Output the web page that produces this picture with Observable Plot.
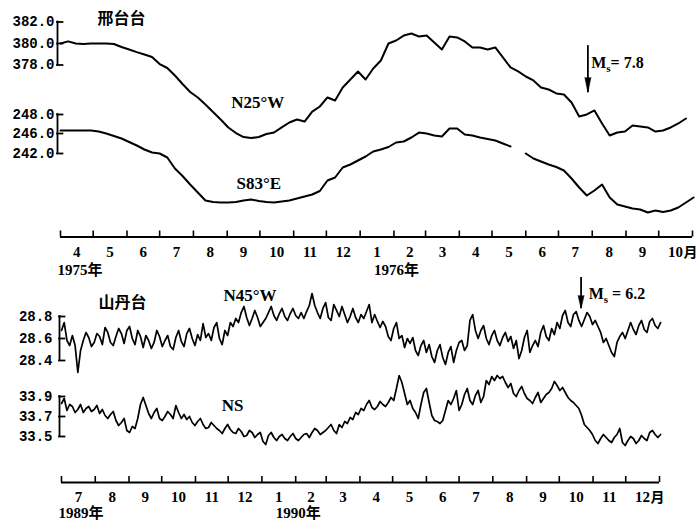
<!DOCTYPE html>
<html>
<head>
<meta charset="utf-8">
<script src="https://cdn.jsdelivr.net/npm/d3@7"></script>
<script src="https://cdn.jsdelivr.net/npm/@observablehq/plot@0.6"></script>
<style>
html, body { margin: 0; padding: 0; background: #fff; }
#chart { position: relative; width: 700px; height: 525px; overflow: hidden; background: #fff; }
#chart svg { position: absolute; left: 0; top: 0; background: transparent !important; overflow: visible; }
</style>
</head>
<body>
<div id="chart"></div>
<script>
// ---------------- data ----------------
const topStart = "1975-04-01", topEnd = "1976-11-01";
const bottomStart = "1989-07-01", bottomEnd = "1991-01-01";
const topStepHours = 168;   // one reading per week, 邢台台
const bottomStepHours = 60; // one reading every 2.5 days, 山丹台

// 邢台台 N25°W
const n25wValues = [
  380.0, 380.2, 380.0, 379.95, 380.0, 380.0, 380.0, 379.95, 379.67, 379.44,
  379.2, 378.98, 378.74, 378.09, 377.72, 377.02, 376.23, 375.49, 374.98, 374.33,
  373.63, 372.93, 372.19, 371.67, 371.30, 371.21, 371.30, 371.58, 371.72, 372.19,
  372.65, 372.93, 372.74, 373.67, 374.14, 374.98, 374.70, 375.91, 376.65, 377.40,
  376.65, 377.67, 378.42, 380.0, 380.28, 380.74, 380.93, 380.65, 380.74, 380.09,
  379.44, 380.65, 380.56, 380.19, 379.63, 379.63, 379.44, 379.63, 378.70, 377.77,
  377.40, 376.93, 376.56, 375.91, 375.72, 375.35, 375.26, 374.51, 373.21, 373.40,
  373.77, 372.56, 371.44, 371.72, 371.81, 372.37, 372.28, 372.19, 371.81, 371.91,
  372.19, 372.56, 373.02, null
];
// 邢台台 S83°E
const s83eValues = [
  246.32, 246.32, 246.32, 246.32, 246.32, 246.21, 246.0, 245.5, 245.0, 244.3,
  243.6, 242.8, 242.2, 242.0, 241.2, 239.0, 237.5, 235.8, 234.2, 232.6,
  232.3, 232.2, 232.2, 232.3, 232.6, 232.8, 232.5, 232.3, 232.2, 232.4,
  232.6, 233.0, 233.4, 233.8, 234.5, 236.6, 237.2, 239.2, 239.8, 240.6,
  241.4, 242.4, 242.8, 243.3, 244.2, 244.4, 245.2, 246.1, 246.0, 245.6,
  245.4, 246.53, 246.53, 245.8, 245.6, 245.2, 244.9, 244.6, 244.0, 243.4,
  null, 242.0, 241.0, 240.4, 239.8, 239.3, 238.6, 237.0, 235.2, 233.6,
  234.6, 235.8, 233.2, 231.8, 231.4, 231.0, 230.8, 230.2, 230.6, 230.3,
  230.6, 231.2, 232.2, 233.2
];
// 山丹台 N45°W
const n45wValues = [
  28.673, 28.745, 28.582, 28.536, 28.627, 28.536, 28.291, 28.491, 28.582, 28.655,
  28.609, 28.527, 28.564, 28.645, 28.618, 28.545, 28.700, 28.655, 28.564, 28.536,
  28.618, 28.691, 28.645, 28.555, 28.673, 28.709, 28.600, 28.545, 28.673, 28.618,
  28.518, 28.627, 28.582, 28.509, 28.564, 28.673, 28.618, 28.527, 28.582, 28.627,
  28.527, 28.500, 28.609, 28.673, 28.573, 28.527, 28.645, 28.691, 28.600, 28.536,
  28.636, 28.582, 28.736, 28.609, 28.645, 28.582, 28.700, 28.745, 28.600, 28.545,
  28.673, 28.627, 28.745, 28.709, 28.782, 28.745, 28.836, 28.891, 28.791, 28.718,
  28.782, 28.855, 28.791, 28.709, 28.745, 28.782, 28.836, 28.891, 28.809, 28.764,
  28.827, 28.873, 28.800, 28.764, 28.827, 28.873, 28.809, 28.782, 28.836, 28.782,
  28.845, 28.900, 29.009, 28.900, 28.836, 28.782, 28.873, 28.927, 28.791, 28.764,
  28.909, 28.855, 28.800, 28.891, 28.818, 28.745, 28.800, 28.873, 28.791, 28.745,
  28.818, 28.782, 28.845, 28.909, 28.745, 28.818, 28.755, 28.700, 28.755, 28.709,
  28.618, 28.582, 28.691, 28.745, 28.600, 28.627, 28.518, 28.600, 28.555, 28.609,
  28.491, 28.445, 28.536, 28.582, 28.473, 28.545, 28.436, 28.382, 28.491, 28.545,
  28.427, 28.364, 28.473, 28.527, 28.382, 28.491, 28.564, 28.582, 28.491, 28.536,
  28.764, 28.818, 28.673, 28.600, 28.673, 28.718, 28.600, 28.545, 28.627, 28.673,
  28.582, 28.536, 28.609, 28.655, 28.573, 28.618, 28.509, 28.582, 28.418, 28.491,
  28.609, 28.673, 28.473, 28.536, 28.582, 28.527, 28.655, 28.718, 28.618, 28.582,
  28.691, 28.636, 28.745, 28.691, 28.809, 28.855, 28.745, 28.709, 28.818, 28.845,
  28.764, 28.709, 28.773, 28.836, 28.800, 28.727, 28.764, 28.709, 28.655, 28.564,
  28.600, 28.536, 28.473, 28.436, 28.564, 28.618, 28.655, 28.600, 28.673, 28.745,
  28.682, 28.636, 28.718, 28.764, 28.682, 28.655, 28.755, 28.782, 28.718, 28.691,
  28.745
];
// 山丹台 NS
const nsValues = [
  33.83, 33.88, 33.76, 33.82, 33.80, 33.74, 33.77, 33.82, 33.74, 33.78,
  33.80, 33.75, 33.77, 33.81, 33.73, 33.77, 33.71, 33.68, 33.72, 33.75,
  33.66, 33.61, 33.64, 33.68, 33.56, 33.54, 33.60, 33.58, 33.68, 33.82,
  33.89, 33.81, 33.73, 33.68, 33.74, 33.78, 33.68, 33.66, 33.70, 33.75,
  33.72, 33.68, 33.81, 33.74, 33.68, 33.72, 33.67, 33.70, 33.64, 33.61,
  33.65, 33.68, 33.62, 33.58, 33.59, 33.64, 33.61, 33.58, 33.56, 33.53,
  33.58, 33.62, 33.57, 33.54, 33.53, 33.58, 33.55, 33.50, 33.51, 33.56,
  33.54, 33.49, 33.52, 33.54, 33.45, 33.42, 33.51, 33.54, 33.49, 33.46,
  33.50, 33.52, 33.48, 33.46, 33.50, 33.53, 33.48, 33.46, 33.49, 33.52,
  33.53, 33.49, 33.54, 33.58, 33.56, 33.52, 33.54, 33.56, 33.59, 33.62,
  33.56, 33.53, 33.62, 33.59, 33.65, 33.63, 33.69, 33.67, 33.74, 33.72,
  33.78, 33.76, 33.82, 33.86, 33.79, 33.77, 33.80, 33.85, 33.82, 33.80,
  33.84, 33.89, 33.86, 33.98, 34.11, 34.04, 33.93, 33.82, 33.86, 33.78,
  33.74, 33.68, 33.82, 33.94, 33.98, 33.84, 33.71, 33.66, 33.65, 33.63,
  33.66, 33.76, 33.86, 33.82, 33.88, 33.96, 33.76, 33.82, 33.92, 33.98,
  33.86, 33.82, 33.91, 33.96, 33.84, 33.90, 34.06, 34.02, 34.10, 34.06,
  34.11, 34.08, 34.10, 34.04, 33.99, 34.03, 33.93, 33.90, 33.96, 34.00,
  33.93, 33.88, 33.86, 33.83, 33.89, 33.94, 33.84, 33.88, 33.92, 33.94,
  33.98, 34.05, 34.01, 33.96, 33.99, 33.94, 33.89, 33.86, 33.84, 33.81,
  33.78, 33.71, 33.62, 33.59, 33.56, 33.52, 33.46, 33.43, 33.48, 33.52,
  33.49, 33.46, 33.44, 33.49, 33.52, 33.58, 33.44, 33.41, 33.46, 33.50,
  33.48, 33.43, 33.46, 33.51, 33.48, 33.46, 33.54, 33.56, 33.52, 33.49,
  33.52
];

const n25wTicks = [378, 380, 382];
const s83eTicks = [242, 246, 248];
const n45wTicks = [28.4, 28.6, 28.8];
const nsTicks = [33.5, 33.7, 33.9];

const topMonthLabels = ["4","5","6","7","8","9","10","11","12","1","2","3","4","5","6","7","8","9","10"];
const bottomMonthLabels = ["7","8","9","10","11","12","1","2","3","4","5","6","7","8","9","10","11","12"];
const topYearLabels = ["1975年", "1976年"];
const bottomYearLabels = ["1989年", "1990年"];

const stationNames = ["邢台台", "山丹台"];
const seriesNames = ["N25°W", "S83°E", "N45°W", "NS"];
const quakeDates = ["1976-07-28", "1990-10-21"];
const quakeLabels = ["Ms= 7.8", "Ms = 6.2"];

// ---------------- drawing ----------------
const parse = d3.utcParse("%Y-%m-%d");
const at = s => () => parse(s);
const tStart = parse(topStart), tEnd = parse(topEnd);
const bStart = parse(bottomStart), bEnd = parse(bottomEnd);
const topDates = n25wValues.map((_, i) => d3.utcHour.offset(tStart, i * topStepHours));
const bottomDates = n45wValues.map((_, i) => d3.utcHour.offset(bStart, i * bottomStepHours));

const chart = document.getElementById("chart");
const TOPX = [60, 692], BOTX = [61, 659];
const serif = "'Liberation Serif', 'Noto Sans CJK SC', serif";
const mono = "'Liberation Mono', 'DejaVu Sans Mono', monospace";
const cjk = "'Noto Sans CJK SC', sans-serif";
const svgStyle = "background: transparent; position: absolute; left: 0; top: 0;";

function seriesPlot({dates, values, xDomain, xRange, yDomain, yRange, ticks, bracketDx, labelDx, strokeWidth = 1.9, marks = []}) {
  const data = dates.map((date, i) => ({date, value: values[i]}));
  const x0 = xDomain[0];
  const svg = Plot.plot({
    width: 700, height: 525, margin: 0, style: svgStyle,
    x: {type: "utc", domain: xDomain, range: xRange, axis: null},
    y: {type: "linear", domain: yDomain, range: yRange, axis: null},
    marks: [
      Plot.lineY(data, {x: "date", y: "value", stroke: "#000", strokeWidth, strokeLinejoin: "round", strokeLinecap: "round"}),
      Plot.ruleX([x0], {y1: d3.min(ticks), y2: d3.max(ticks), dx: bracketDx, stroke: "#000", strokeWidth: 1.8, strokeLinecap: "square"}),
      Plot.ruleY(ticks, {x1: () => x0, x2: () => d3.utcDay.offset(x0, 5), dx: bracketDx, stroke: "#000", strokeWidth: 1.8, strokeLinecap: "square"}),
      Plot.text(ticks, {x: () => x0, y: d => d, text: d => d.toFixed(1), textAnchor: "end", dx: labelDx,
        fontFamily: mono, fontWeight: "bold", fontSize: 14, fill: "#000"}),
      ...marks
    ]
  });
  chart.appendChild(svg);
  return svg;
}

function axisPlot({xDomain, xRange, axisY, monthLabels, yearLabels, labelDy, yearDy}) {
  const [a, b] = xDomain;
  const starts = d3.utcMonth.range(a, d3.utcDay.offset(b, 1));
  const months = monthLabels.map((label, i) => ({mid: new Date((+starts[i] + +starts[i + 1]) / 2), label}));
  const jan = months.find(m => m.mid.getUTCMonth() === 0);
  const years = [{x: a, label: yearLabels[0]}, {x: jan.mid, label: yearLabels[1]}];
  const last = months[months.length - 1];
  const svg = Plot.plot({
    width: 700, height: 525, margin: 0, style: svgStyle,
    x: {type: "utc", domain: xDomain, range: xRange, axis: null},
    y: {type: "linear", domain: [0, 1], range: [axisY, axisY - 6], axis: null},
    marks: [
      Plot.ruleY([0], {x1: () => a, x2: () => b, stroke: "#000", strokeWidth: 1.8}),
      Plot.ruleX(starts, {y1: 0, y2: 1, stroke: "#000", strokeWidth: 1.6}),
      Plot.text(months, {x: "mid", y: 0, text: "label", dy: labelDy, fontFamily: serif, fontWeight: "bold", fontSize: 15, fill: "#000"}),
      Plot.text([last], {x: "mid", y: 0, text: () => "月", dx: 8, dy: labelDy, textAnchor: "start", fontFamily: cjk, fontWeight: "bold", fontSize: 14, fill: "#000"}),
      Plot.text(years, {x: "x", y: 0, text: "label", dx: -3, dy: yearDy, textAnchor: "start", fontFamily: serif, fontWeight: "bold", fontSize: 15, fill: "#000"})
    ]
  });
  chart.appendChild(svg);
  return svg;
}

// earthquake arrow: shaft plus a filled narrow head
function quakeArrow(date, yTop, yTip, headLength) {
  const x = () => parse(date);
  if (typeof Plot.spike === "function") {
    return [
      Plot.ruleX([date], {x, y1: yTop, y2: yTip, stroke: "#000", strokeWidth: 1.8}),
      Plot.vector([date], {x, y: yTip, rotate: 180, length: headLength, anchor: "end", shape: "spike", r: 3, fill: "#000", stroke: "#000", strokeWidth: 0.6})
    ];
  }
  return [Plot.arrow([date], {x1: x, x2: x, y1: yTop, y2: yTip, headAngle: 24, headLength, stroke: "#000", strokeWidth: 2})];
}

const labelStyle = {fontFamily: serif, fontWeight: "bold", fontSize: 17, fill: "#000"};
const stationStyle = {fontFamily: cjk, fontWeight: "bold", fontSize: 16, fill: "#000"};
const msStyle = {fontFamily: serif, fontWeight: "bold", fontSize: 16, fill: "#000", textAnchor: "start"};

// axes
axisPlot({xDomain: [tStart, tEnd], xRange: TOPX, axisY: 236.5, monthLabels: topMonthLabels, yearLabels: topYearLabels, labelDy: 15.5, yearDy: 33.5});
axisPlot({xDomain: [bStart, bEnd], xRange: BOTX, axisY: 482, monthLabels: bottomMonthLabels, yearLabels: bottomYearLabels, labelDy: 15, yearDy: 31});

// 邢台台
seriesPlot({
  dates: topDates, values: n25wValues, xDomain: [tStart, tEnd], xRange: TOPX,
  yDomain: [378, 382], yRange: [64.5, 21.5], ticks: n25wTicks, bracketDx: -3, labelDx: -6, strokeWidth: 2,
  marks: [
    Plot.text([stationNames[0]], {x: at("1975-05-27"), y: 382.33, text: d => d, ...stationStyle}),
    Plot.text([seriesNames[0]], {x: at("1975-09-29"), y: 374.47, text: d => d, ...labelStyle}),
    ...quakeArrow(quakeDates[0], 379.8, 375.44, 15),
    Plot.text([quakeLabels[0]], {x: at("1976-07-31"), y: 378.23, text: d => d, ...msStyle})
  ]
});
seriesPlot({
  dates: topDates, values: s83eValues, xDomain: [tStart, tEnd], xRange: TOPX,
  yDomain: [242, 246, 248], yRange: [153, 133, 114], ticks: s83eTicks, bracketDx: -3, labelDx: -6, strokeWidth: 2,
  marks: [
    Plot.text([seriesNames[1]], {x: at("1975-09-30"), y: 235.9, text: d => d, ...labelStyle})
  ]
});

// 山丹台
seriesPlot({
  dates: bottomDates, values: n45wValues, xDomain: [bStart, bEnd], xRange: BOTX,
  yDomain: [28.4, 28.8], yRange: [360, 316], ticks: n45wTicks, bracketDx: -2, labelDx: -9, strokeWidth: 1.7,
  marks: [
    Plot.text([stationNames[1]], {x: at("1989-08-26"), y: 28.927, text: d => d, ...stationStyle}),
    Plot.text([seriesNames[2]], {x: at("1989-12-21"), y: 28.99, text: d => d, ...labelStyle}),
    ...quakeArrow(quakeDates[1], 29.155, 28.873, 13),
    Plot.text([quakeLabels[1]], {x: at("1990-10-28"), y: 29.009, text: d => d, ...msStyle})
  ]
});
seriesPlot({
  dates: bottomDates, values: nsValues, xDomain: [bStart, bEnd], xRange: BOTX,
  yDomain: [33.5, 33.9], yRange: [436, 396], ticks: nsTicks, bracketDx: -2, labelDx: -9, strokeWidth: 1.7,
  marks: [
    Plot.text([seriesNames[3]], {x: at("1989-12-05"), y: 33.81, text: d => d, ...labelStyle})
  ]
});

// subscript "s" in Ms
d3.select(chart).selectAll("text").each(function () {
  const t = this.textContent;
  if (t.startsWith("Ms")) {
    const sel = d3.select(this);
    sel.text(null);
    sel.append("tspan").text("M");
    sel.append("tspan").attr("font-size", "11px").attr("dy", "4").text("s");
    sel.append("tspan").attr("dy", "-4").text(t.slice(2));
  }
});
</script>
</body>
</html>
